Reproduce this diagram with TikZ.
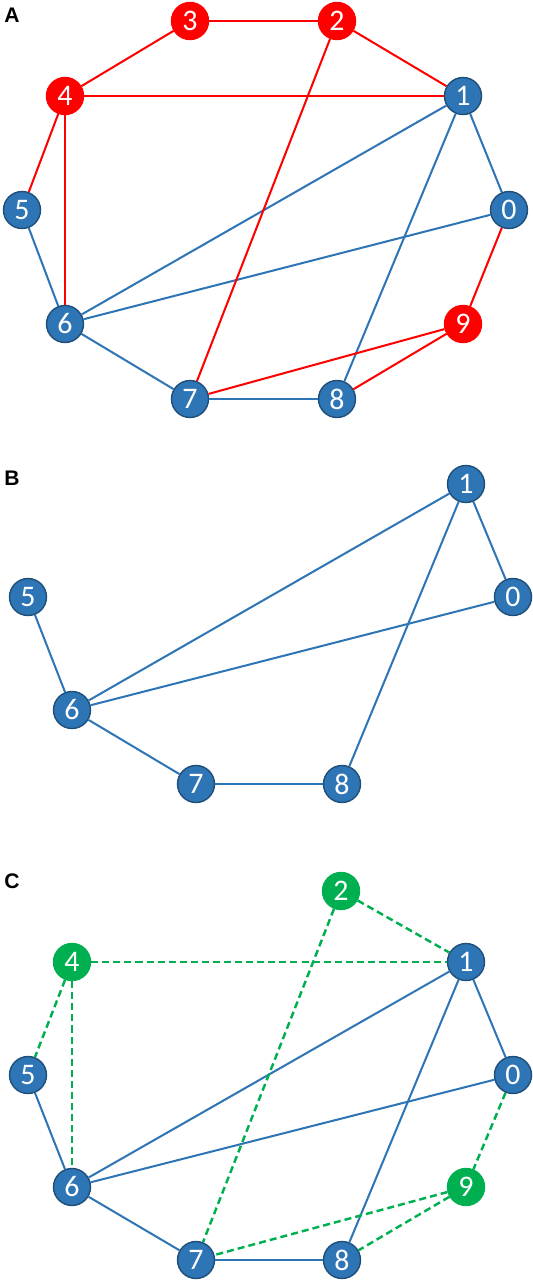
\documentclass[tikz,border=0pt]{standalone}
\usepackage{fontspec}
\usepackage{xcolor}
\setmainfont{Carlito}
\newfontfamily\panelfont{Liberation Sans}
\definecolor{nodeblue}{HTML}{2E75B6}
\definecolor{rimblue}{HTML}{1F4E79}
\definecolor{hitred}{HTML}{FF0000}
\definecolor{addgreen}{HTML}{00B050}

\begin{document}
\begin{tikzpicture}[x=0.02cm, y=-0.02cm, line width=1.15pt,
  vtx/.style={circle, draw=rimblue, fill=nodeblue, line width=0.8pt, text=white,
    minimum size=0.74cm, inner sep=0pt, font=\fontsize{17}{17}\selectfont},
  redvtx/.style={vtx, draw=hitred, fill=hitred},
  greenvtx/.style={vtx, draw=addgreen, fill=addgreen},
  paneltag/.style={font=\panelfont\bfseries\fontsize{12}{12}\selectfont},
  blueedge/.style={draw=nodeblue},
  rededge/.style={draw=hitred},
  greenedge/.style={draw=addgreen, line width=1.4pt, dash pattern=on 4pt off 2.3pt}]
\useasboundingbox (0,0) rectangle (533,1281);

% panel A
\node[paneltag] (tagA) at (12,15) {A};
\node[redvtx] (A3) at (190,21) {3};
\node[redvtx] (A2) at (337,21) {2};
\node[redvtx] (A4) at (65,96) {4};
\node[vtx] (A1) at (463,96) {1};
\node[vtx] (A5) at (22,210) {5};
\node[vtx] (A0) at (509,210) {0};
\node[vtx] (A6) at (65,324) {6};
\node[redvtx] (A9) at (463,324) {9};
\node[vtx] (A7) at (190,399) {7};
\node[vtx] (A8) at (337,399) {8};
\foreach \i/\j in {1/0,1/6,1/8,5/6,0/6,6/7,7/8}
  \draw[blueedge] (A\i) -- (A\j);
\foreach \i/\j in {3/2,3/4,2/1,4/1,4/5,4/6,2/7,0/9,9/7,9/8}
  \draw[rededge] (A\i) -- (A\j);

% panel B
\node[paneltag] (tagB) at (12,478) {B};
\node[vtx] (B1) at (466,484) {1};
\node[vtx] (B5) at (28,597) {5};
\node[vtx] (B0) at (513,597) {0};
\node[vtx] (B6) at (72,710) {6};
\node[vtx] (B7) at (196,784) {7};
\node[vtx] (B8) at (342,784) {8};
\foreach \i/\j in {1/0,1/6,1/8,5/6,0/6,6/7,7/8}
  \draw[blueedge] (B\i) -- (B\j);

% panel C
\node[paneltag] (tagC) at (12,881) {C};
\node[greenvtx] (C2) at (341,891) {2};
\node[greenvtx] (C4) at (72,962) {4};
\node[vtx] (C1) at (466,962) {1};
\node[vtx] (C5) at (28,1075) {5};
\node[vtx] (C0) at (513,1075) {0};
\node[vtx] (C6) at (72,1187) {6};
\node[greenvtx] (C9) at (466,1187) {9};
\node[vtx] (C7) at (196,1260) {7};
\node[vtx] (C8) at (342,1260) {8};
\foreach \i/\j in {1/0,1/6,1/8,5/6,0/6,6/7,7/8}
  \draw[blueedge] (C\i) -- (C\j);
\foreach \i/\j in {2/1,2/7,4/1,4/5,4/6,0/9,9/7,9/8}
  \draw[greenedge] (C\i) -- (C\j);
\end{tikzpicture}
\end{document}
